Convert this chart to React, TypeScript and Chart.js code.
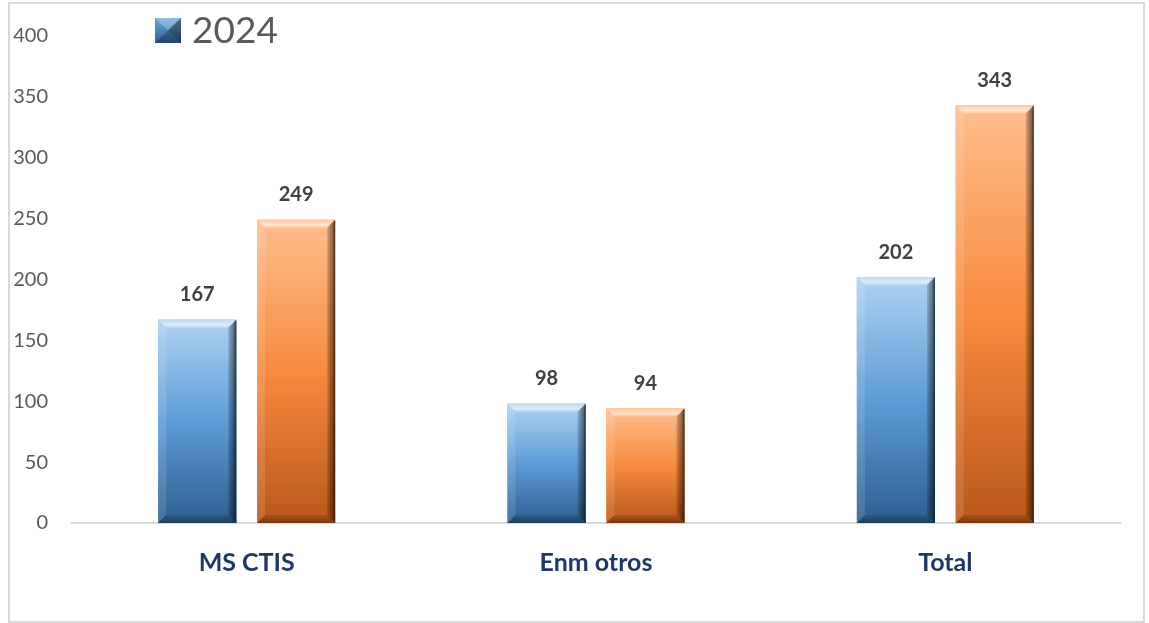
import React, { useEffect, useRef } from "react";
import { Chart, registerables } from "chart.js";

Chart.register(...registerables);

const categories = ["MS CTIS", "Enm otros", "Total"];
const seriesNames = ["2024", "2025"];
const values2024 = [167, 98, 202];
const values2025 = [249, 94, 343];
const yMin = 0;
const yMax = 400;
const yStep = 50;

const FONT = "Lato, 'Open Sans', sans-serif";

const palettes = [
  { top: "#AED3F2", mid: "#5E9CD6", bot: "#2C5F90", edge: "#102a44" },
  { top: "#FFBE8E", mid: "#F78B3E", bot: "#B9571A", edge: "#4a1f05" },
];

function drawBevelRect(ctx: CanvasRenderingContext2D, l: number, t: number, r: number, b: number, p: any, s: number) {
  const g = ctx.createLinearGradient(0, t, 0, b);
  g.addColorStop(0, p.top);
  g.addColorStop(0.5, p.mid);
  g.addColorStop(1, p.bot);
  ctx.fillStyle = g;
  ctx.fillRect(l, t, r - l, b - t);
  ctx.beginPath();
  ctx.moveTo(l, t); ctx.lineTo(r, t); ctx.lineTo(r - s, t + s); ctx.lineTo(l + s, t + s); ctx.closePath();
  const gt = ctx.createLinearGradient(0, t, 0, t + s);
  gt.addColorStop(0, "rgba(255,255,255,0.15)");
  gt.addColorStop(0.6, "rgba(255,255,255,0.6)");
  gt.addColorStop(1, "rgba(255,255,255,0.2)");
  ctx.fillStyle = gt;
  ctx.fill();
  ctx.beginPath();
  ctx.moveTo(l, t); ctx.lineTo(l + s, t + s); ctx.lineTo(l + s, b - s); ctx.lineTo(l, b); ctx.closePath();
  ctx.fillStyle = "rgba(255,255,255,0.12)";
  ctx.fill();
  ctx.beginPath();
  ctx.moveTo(r, t); ctx.lineTo(r, b); ctx.lineTo(r - s, b - s); ctx.lineTo(r - s, t + s); ctx.closePath();
  const gr = ctx.createLinearGradient(r - s, 0, r, 0);
  gr.addColorStop(0, "rgba(0,0,0,0.15)");
  gr.addColorStop(1, "rgba(0,0,0,0.6)");
  ctx.fillStyle = gr;
  ctx.fill();
  ctx.beginPath();
  ctx.moveTo(l, b); ctx.lineTo(r, b); ctx.lineTo(r - s, b - s); ctx.lineTo(l + s, b - s); ctx.closePath();
  const gb = ctx.createLinearGradient(0, b - s, 0, b);
  gb.addColorStop(0, "rgba(0,0,0,0.1)");
  gb.addColorStop(1, "rgba(0,0,0,0.35)");
  ctx.fillStyle = gb;
  ctx.fill();
  ctx.fillStyle = p.edge;
  ctx.globalAlpha = 0.5;
  ctx.fillRect(r - 1.5, t + 1, 1.5, b - t - 1);
  ctx.globalAlpha = 1;
}

const bevelPlugin = {
  id: "bevelBars",
  afterDatasetsDraw(chart: any) {
    const ctx: CanvasRenderingContext2D = chart.ctx;
    ctx.save();
    chart.data.datasets.forEach((ds: any, di: number) => {
      const meta = chart.getDatasetMeta(di);
      meta.data.forEach((bar: any, i: number) => {
        const { x, y, base, width } = bar.getProps(["x", "y", "base", "width"], true);
        const l = x - width / 2;
        const r = x + width / 2;
        drawBevelRect(ctx, l, y, r, base, palettes[di], 8);
        ctx.fillStyle = "#404040";
        ctx.font = `bold 20px ${FONT}`;
        ctx.textAlign = "center";
        ctx.textBaseline = "bottom";
        ctx.fillText(String(ds.data[i]), x, y - 15);
      });
    });
    ctx.restore();
  },
  afterDraw(chart: any) {
    const ctx: CanvasRenderingContext2D = chart.ctx;
    ctx.save();
    const lx = 155, ly = 18, w = 26, h = 25;
    const g = ctx.createLinearGradient(0, ly, 0, ly + h);
    g.addColorStop(0, "#6FA6D8");
    g.addColorStop(1, "#2C5F90");
    ctx.fillStyle = g;
    ctx.fillRect(lx, ly, w, h);
    const cx = lx + w / 2, cy = ly + h / 2;
    ctx.beginPath(); ctx.moveTo(lx, ly); ctx.lineTo(lx + w, ly); ctx.lineTo(cx, cy); ctx.closePath();
    ctx.fillStyle = "rgba(255,255,255,0.25)"; ctx.fill();
    ctx.beginPath(); ctx.moveTo(lx + w, ly); ctx.lineTo(lx + w, ly + h); ctx.lineTo(cx, cy); ctx.closePath();
    ctx.fillStyle = "rgba(0,0,0,0.35)"; ctx.fill();
    ctx.beginPath(); ctx.moveTo(lx, ly + h); ctx.lineTo(lx + w, ly + h); ctx.lineTo(cx, cy); ctx.closePath();
    ctx.fillStyle = "rgba(0,0,0,0.25)"; ctx.fill();
    ctx.fillStyle = "#595959";
    ctx.font = `37px ${FONT}`;
    ctx.textAlign = "left";
    ctx.textBaseline = "middle";
    ctx.fillText(chart.data.datasets[0].label, 192, ly + h / 2 + 1);
    ctx.restore();
  },
};

export default function App() {
  const ref = useRef<HTMLCanvasElement | null>(null);
  useEffect(() => {
    if (!ref.current) return;
    const chart = new Chart(ref.current, {
      type: "bar",
      data: {
        labels: categories,
        datasets: [
          { label: seriesNames[0], data: values2024, backgroundColor: palettes[0].mid },
          { label: seriesNames[1], data: values2025, backgroundColor: palettes[1].mid },
        ],
      },
      options: {
        animation: false,
        responsive: false,
        maintainAspectRatio: false,
        layout: { padding: { top: 35, right: 29, bottom: 0, left: 0 } },
        plugins: { legend: { display: false }, tooltip: { enabled: false } },
        datasets: { bar: { categoryPercentage: 0.566, barPercentage: 0.79 } },
        scales: {
          x: {
            grid: { display: false, drawTicks: false },
            border: { display: true, color: "#D9D9D9", width: 2 },
            ticks: { color: "#1F3864", font: { family: FONT, size: 25, weight: "bold" }, padding: 25 },
            afterFit: (s: any) => { s.height = 100; },
          },
          y: {
            min: yMin,
            max: yMax,
            ticks: { stepSize: yStep, color: "#595959", font: { family: FONT, size: 20 }, padding: 24 },
            grid: { display: false, drawTicks: false },
            border: { display: false },
            afterFit: (s: any) => { s.width = 72; },
          },
        },
      } as any,
      plugins: [bevelPlugin],
    });
    return () => chart.destroy();
  }, []);
  return (
    <div style={{ position: "fixed", left: 0, top: 0, width: 1149, height: 623, background: "#fff" }}>
      <canvas ref={ref} width={1149} height={623} style={{ position: "absolute", left: 0, top: 0 }} />
      <div style={{ position: "absolute", left: 8, top: 2, width: 1133, height: 617, border: "2px solid #D9D9D9", pointerEvents: "none" }} />
    </div>
  );
}
